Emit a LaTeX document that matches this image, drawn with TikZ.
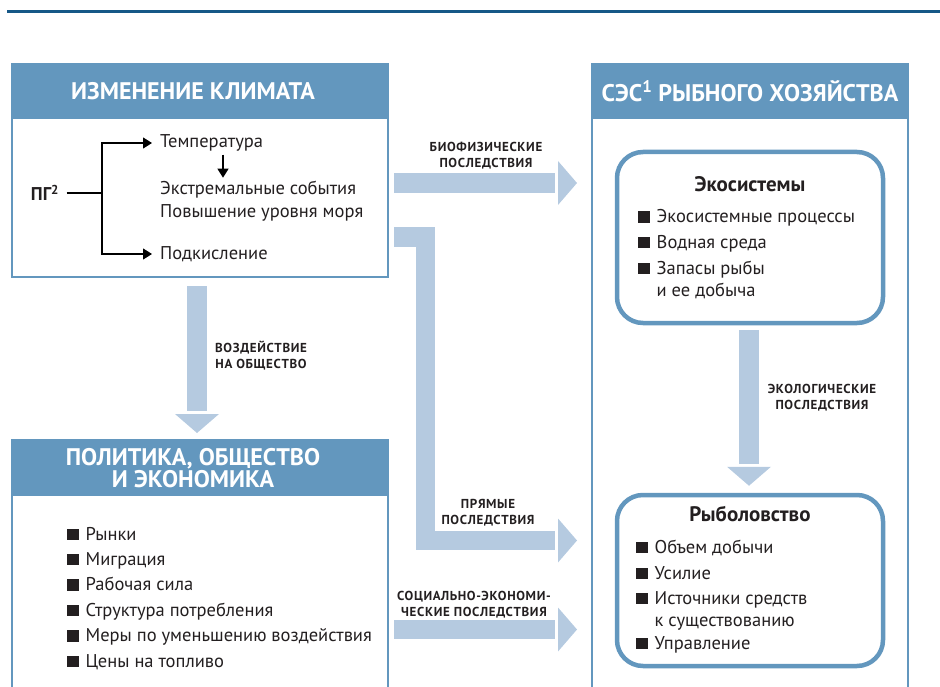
\documentclass[tikz,border=0pt]{standalone}
\usepackage{fontspec}
\setmainfont{PT Sans}
\usetikzlibrary{arrows.meta,calc,decorations.markings}
\definecolor{headblue}{RGB}{99,151,190}
\definecolor{arrowblue}{RGB}{181,202,224}
\definecolor{topblue}{RGB}{22,88,135}
\definecolor{ink}{RGB}{35,31,32}
\newcommand\bsq{\textcolor{ink}{\rule{11.5pt}{11.5pt}}\hspace{7pt}}
\begin{document}
\begin{tikzpicture}[x=1pt,y=-1pt,font=\fontsize{18.5}{23}\selectfont,text=ink,
    panel/.style={draw=headblue,line width=2.5pt,anchor=north west,inner sep=0pt,outer sep=0pt},
    headbar/.style={fill=headblue,draw=headblue,line width=2.5pt,anchor=north west,minimum height=54pt,inner sep=0pt,outer sep=0pt},
    headtext/.style={text=white,font=\fontsize{24}{22}\selectfont\bfseries,align=center},
    roundbox/.style={draw=headblue,line width=4.5pt,rounded corners=26pt,minimum width=266pt,minimum height=171pt},
    title/.style={font=\fontsize{21}{22}\selectfont\bfseries},
    item/.style={anchor=base west,inner sep=0pt},
    note/.style={font=\fontsize{13}{16}\selectfont\bfseries\addfontfeature{LetterSpace=5},align=center},
    flow/.style={draw=arrowblue,line width=19.5pt,line join=miter,shorten >=22pt,
        postaction={decorate,decoration={markings,mark=at position 1 with {\arrow{Triangle[length=19pt,width=44pt,line width=0pt]}}}}},
    tip/.style={line width=1.2pt,-{Triangle[length=9pt,width=11pt]}}]
\useasboundingbox (0,0) rectangle (940,687);
\draw[topblue,line width=3pt] (7,11.5) -- (940,11.5);

% panels
\node[panel,minimum width=376pt,minimum height=213pt] (climate) at (12,64) {};
\node[headbar,minimum width=376pt] (climbar) at (12,64) {};
\node[headtext] (climtitle) at (193,91) {ИЗМЕНЕНИЕ КЛИМАТА};
\node[panel,minimum width=316pt,minimum height=640pt] (ses) at (592,64) {};
\node[headbar,minimum width=316pt] (sesbar) at (592,64) {};
\node[headtext] (sestitle) at (750,91) {СЭС\textsuperscript{1} РЫБНОГО ХОЗЯЙСТВА};
\node[panel,minimum width=376pt,minimum height=260pt] (policy) at (12,440) {};
\node[headbar,minimum width=376pt,minimum height=55pt] (polbar) at (12,440) {};
\node[headtext] (poltitle) at (193,468) {ПОЛИТИКА, ОБЩЕСТВО\\И ЭКОНОМИКА};

% climate
\node (ghg) at (45,193) {\bfseries ПГ\textsuperscript{2}};
\coordinate (fork) at (102,193);
\node[anchor=west,inner sep=0pt] (temp) at (160,143) {Температура};
\node[anchor=west,inner sep=0pt,align=left] (extr) at (160,201) {Экстремальные события\\Повышение уровня моря};
\node[anchor=west,inner sep=0pt] (acid) at (160,254) {Подкисление};
\draw[line width=1.2pt] ([xshift=4pt]ghg.east) -- (fork);
\draw[tip] (fork) |- ([xshift=-8pt]temp.west);
\draw[tip] (fork) |- ([xshift=-8pt]acid.west);
\draw[tip] ([xshift=63pt,yshift=-3pt]temp.south west) -- ([xshift=63pt,yshift=3pt]extr.north west);

% ses
\node[roundbox] (eco) at (750,237.5) {};
\node[title] (ecotitle) at (750,184) {Экосистемы};
\node[item] (eco1) at (638,223) {\bsq Экосистемные процессы};
\node[item] (eco2) at (638,248) {\bsq Водная среда};
\node[item] (eco3) at (638,274) {\bsq Запасы рыбы};
\node[item] (eco3b) at (638,296) {\hphantom{\bsq}и ее добыча};
\node[roundbox] (fish) at (750,580.5) {};
\node[title] (fishtitle) at (750,514) {Рыболовство};
\node[item] (fish1) at (636,553) {\bsq Объем добычи};
\node[item] (fish2) at (636,579) {\bsq Усилие};
\node[item] (fish3) at (636,604) {\bsq Источники средств};
\node[item] (fish3b) at (636,626) {\hphantom{\bsq}к существованию};
\node[item] (fish4) at (636,649) {\bsq Управление};

% policy
\foreach \t [count=\i] in {Рынки,Миграция,Рабочая сила,Структура потребления,Меры по уменьшению воздействия,Цены на топливо}
    \node[item] (pol\i) at (67,{540+25.4*(\i-1)}) {\bsq\t};

% flows
\draw[flow] ($(climate.north east)+(6,119)$) -- ($(ses.north west)+(-15,119)$);
\draw[flow] ($(climate.north east)+(6,173)$) -- ++(31.5,0) |- ($(ses.north west)+(-15,476.5)$);
\draw[flow] ($(policy.north east)+(6,189.5)$) -- ($(ses.north west)+(-15,565.5)$);
\draw[flow] ($(climate.south)+(-3,9)$) -- ($(policy.north)+(-3,-7)$);
\draw[flow] ($(eco.south)+(-1,5)$) -- ($(fish.north)+(-1,-7)$);
\node[note] (bionote) at (486,156) {БИОФИЗИЧЕСКИЕ\\ПОСЛЕДСТВИЯ};
\node[note] (socnote) at (261,356) {ВОЗДЕЙСТВИЕ\\НА ОБЩЕСТВО};
\node[note] (directnote) at (488,513) {ПРЯМЫЕ\\ПОСЛЕДСТВИЯ};
\node[note] (seconote) at (474,605) {СОЦИАЛЬНО-ЭКОНОМИ-\\ЧЕСКИЕ ПОСЛЕДСТВИЯ};
\node[note] (econote) at (822,398) {ЭКОЛОГИЧЕСКИЕ\\ПОСЛЕДСТВИЯ};
\end{tikzpicture}
\end{document}
